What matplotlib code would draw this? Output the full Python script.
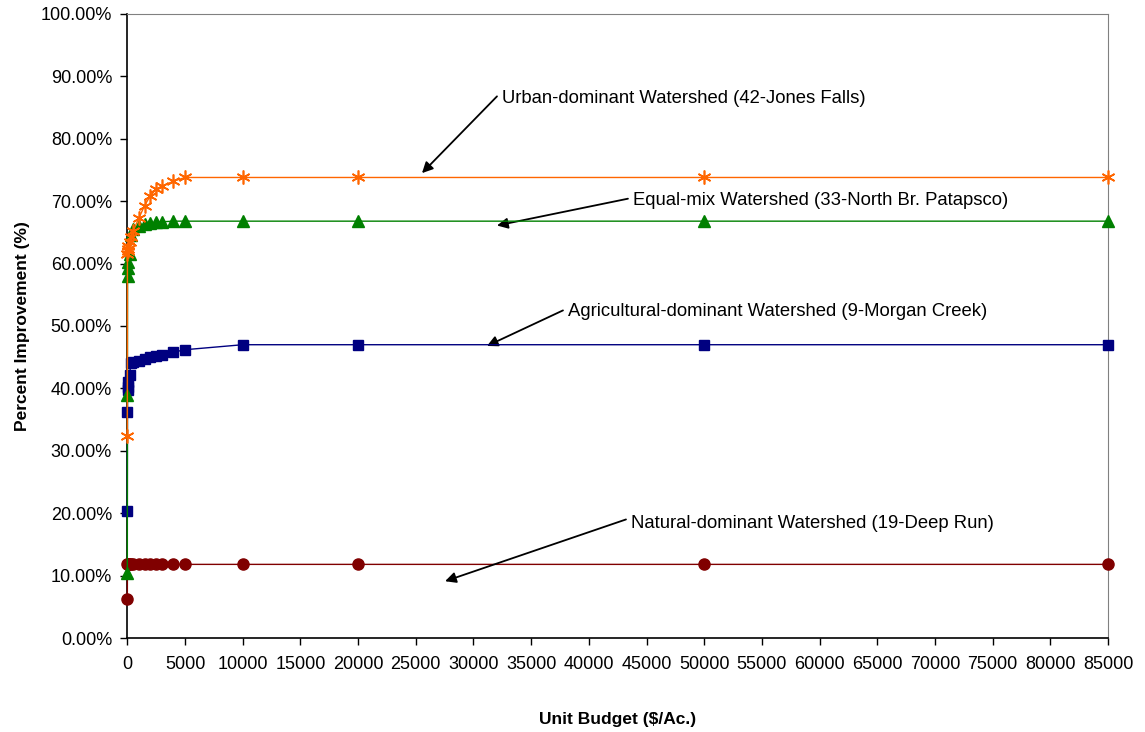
import matplotlib.pyplot as plt
import numpy as np

## DATA ##

# Unit budget ($/Ac.)
budget = [0, 10, 20, 50, 100, 200, 300, 500, 1000, 1500, 2000, 2500, 3000, 4000, 5000, 10000, 20000, 50000, 85000]

# Percent improvement (%) per watershed
urban = [32.3, 61.5, 62.0, 62.3, 62.8, 63.5, 64.2, 65.2, 67.3, 69.3, 70.9, 71.9, 72.4, 73.2, 73.8, 73.8, 73.8, 73.8, 73.8]
equal_mix = [10.4, 39.0, 58.0, 59.3, 60.3, 61.5, 64.6, 65.5, 66.0, 66.3, 66.5, 66.6, 66.7, 66.8, 66.8, 66.8, 66.8, 66.8, 66.8]
agricultural = [20.3, 36.2, 39.7, 40.2, 41.0, 42.2, 44.0, 44.2, 44.4, 44.7, 45.0, 45.2, 45.4, 45.8, 46.2, 47.0, 47.0, 47.0, 47.0]
natural = [6.3, 11.8, 11.8, 11.8, 11.8, 11.8, 11.8, 11.8, 11.8, 11.8, 11.8, 11.8, 11.8, 11.8, 11.8, 11.8, 11.8, 11.8, 11.8]

# Annotation labels: text, arrow tail (text starts just right of it), arrow tip (data coordinates)
labels = ["Urban-dominant Watershed (42-Jones Falls)",
          "Equal-mix Watershed (33-North Br. Patapsco)",
          "Agricultural-dominant Watershed (9-Morgan Creek)",
          "Natural-dominant Watershed (19-Deep Run)"]
tail_xy = [(32040, 86.8), (43390, 70.4), (37760, 52.5), (43220, 19.0)]
tip_xy = [(25540, 74.5), (32040, 66.1), (31170, 46.8), (27540, 9.1)]
text_y = [86.4, 70.1, 52.3, 18.4]

plt.rcParams['font.family'] = ['Liberation Sans', 'DejaVu Sans']

## PLOT ##

fig = plt.figure(figsize=(11.45, 7.32), dpi=100)
ax = fig.add_axes([0.1112, 0.1284, 0.8565, 0.8525])

ax.plot(budget, natural, color='#800000', marker='o', markersize=8, lw=1, clip_on=False, zorder=3)
ax.plot(budget, agricultural, color='#000080', marker='s', markersize=7, lw=1, clip_on=False, zorder=4)
ax.plot(budget, equal_mix, color='#008000', marker='^', markersize=8, lw=1, clip_on=False, zorder=5)
ax.plot(budget, urban, color='#FF6600', marker=(6, 2, 0), markersize=10, markeredgewidth=1.2, lw=1, clip_on=False, zorder=6)

for text, tail, tip, ty in zip(labels, tail_xy, tip_xy, text_y):
    ax.annotate('', xy=tip, xytext=tail,
                arrowprops=dict(arrowstyle='-|>', color='black', lw=1.3, mutation_scale=16,
                                shrinkA=0, shrinkB=0))
    ax.text(tail[0] + 400, ty, text, fontsize=13.3, va='center', ha='left')

ax.set_xlim(0, 85000)
ax.set_ylim(0, 100)
ax.set_xticks(np.arange(0, 85001, 5000))
ax.set_xticklabels([str(v) for v in range(0, 85001, 5000)], fontsize=13)
ax.set_yticks(np.arange(0, 101, 10))
ax.set_yticklabels([f"{v:.2f}%" for v in range(0, 101, 10)], fontsize=13)
ax.tick_params(direction='out', length=5, width=1)
ax.tick_params(axis='x', pad=8)
ax.tick_params(axis='y', pad=6)

ax.spines['top'].set_color('#808080')
ax.spines['right'].set_color('#808080')
ax.spines['left'].set_linewidth(1.2)
ax.spines['bottom'].set_linewidth(1.2)

ax.set_xlabel("Unit Budget ($/Ac.)", fontsize=12.5, fontweight='bold', labelpad=28)
ax.set_ylabel("Percent Improvement (%)", fontsize=12.5, fontweight='bold', labelpad=8)

plt.savefig("out.png", dpi=100)
